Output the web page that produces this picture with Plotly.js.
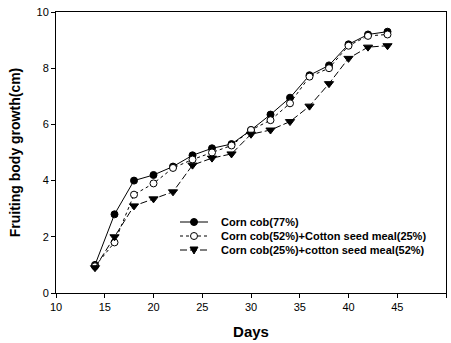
<!DOCTYPE html>
<html>
<head>
<meta charset="utf-8">
<script src="https://cdn.plot.ly/plotly-3.0.1.min.js"></script>
<style>
  html, body { margin: 0; padding: 0; background: #fff; }
  #chart { width: 451px; height: 343px; }
</style>
</head>
<body>
<div id="chart"></div>
<script>
// Growth of fruiting bodies over time for three substrate mixes
const days = [14, 16, 18, 20, 22, 24, 26, 28, 30, 32, 34, 36, 38, 40, 42, 44];

const cornCob77 = [1.0, 2.8, 4.0, 4.2, 4.5, 4.9, 5.15, 5.3, 5.8, 6.35, 6.95, 7.75, 8.1, 8.85, 9.2, 9.3];
const cornCob52Cotton25 = [0.95, 1.8, 3.5, 3.9, 4.45, 4.75, 5.0, 5.25, 5.8, 6.15, 6.75, 7.7, 8.0, 8.8, 9.15, 9.2];
const cornCob25Cotton52 = [0.9, 2.0, 3.1, 3.35, 3.6, 4.55, 4.8, 4.95, 5.65, 5.8, 6.1, 6.65, 7.45, 8.35, 8.75, 8.8];

const seriesNames = [
  'Corn cob(77%)',
  'Corn cob(52%)+Cotton seed meal(25%)',
  'Corn cob(25%)+cotton seed meal(52%)'
];

const xTicks = [10, 15, 20, 25, 30, 35, 40, 45, 50];
const yTicks = [0, 2, 4, 6, 8, 10];

const FONT = 'Arial, Liberation Sans, sans-serif';

// Per-series styling
const styles = [
  { dash: 'solid',   symbol: 'circle',        fill: '#000', size: 7 },
  { dash: 'dot',     symbol: 'circle',        fill: '#fff', size: 7 },
  { dash: '7px,3px', symbol: 'triangle-down', fill: '#000', size: 8 }
];

const seriesValues = [cornCob77, cornCob52Cotton25, cornCob25Cotton52];

const traces = seriesValues.map((vals, i) => ({
  x: days, y: vals, name: seriesNames[i],
  mode: 'lines+markers',
  showlegend: false,
  line: { color: '#000', width: 1, dash: styles[i].dash },
  marker: { symbol: styles[i].symbol, size: styles[i].size, color: styles[i].fill,
            line: { color: '#000', width: 1 } }
}));

// Compact legend box drawn inside the plot (paper coordinates)
const plotL = 56, plotR = 446, plotT = 12, plotB = 293;
const px = v => (v - plotL) / (plotR - plotL);
const py = v => (plotB - v) / (plotB - plotT);
const legendRows = [222, 236, 250];
const sampleX0 = 180, sampleX1 = 208, markX = 194, textX = 219;

const shapes = [];
const annotations = [];
legendRows.forEach((row, i) => {
  shapes.push({
    type: 'line', xref: 'paper', yref: 'paper',
    x0: px(sampleX0), x1: px(sampleX1), y0: py(row), y1: py(row),
    line: { color: '#000', width: 1, dash: styles[i].dash }
  });
  if (styles[i].symbol === 'circle') {
    shapes.push({
      type: 'circle', xref: 'paper', yref: 'paper',
      xsizemode: 'pixel', ysizemode: 'pixel',
      xanchor: px(markX), yanchor: py(row),
      x0: -3.5, x1: 3.5, y0: -3.5, y1: 3.5,
      fillcolor: styles[i].fill, line: { color: '#000', width: 1 }
    });
  } else {
    shapes.push({
      type: 'path', xref: 'paper', yref: 'paper',
      xsizemode: 'pixel', ysizemode: 'pixel',
      xanchor: px(markX), yanchor: py(row),
      path: 'M -4 3 L 4 3 L 0 -4 Z',
      fillcolor: styles[i].fill, line: { color: '#000', width: 1 }
    });
  }
  annotations.push({
    xref: 'paper', yref: 'paper', x: px(textX), y: py(row),
    xanchor: 'left', yanchor: 'middle', showarrow: false,
    text: '<b>' + seriesNames[i] + '</b>',
    font: { family: FONT, size: 11, color: '#000' }
  });
});

const axisBase = {
  showgrid: false,
  zeroline: false,
  showline: true,
  linecolor: '#000',
  linewidth: 1,
  mirror: true,
  ticks: 'outside',
  ticklen: 4,
  tickcolor: '#000',
  tickfont: { family: FONT, size: 11, color: '#000' }
};

const layout = {
  width: 451,
  height: 343,
  margin: { l: plotL, r: 451 - plotR, t: plotT, b: 343 - plotB },
  paper_bgcolor: '#fff',
  plot_bgcolor: '#fff',
  showlegend: false,
  xaxis: Object.assign({}, axisBase, {
    range: [10, 50],
    tickvals: xTicks,
    ticktext: xTicks.map(String),
    title: { text: '<b>Days</b>', font: { family: FONT, size: 15, color: '#000' }, standoff: 14 }
  }),
  yaxis: Object.assign({}, axisBase, {
    range: [0, 10],
    tickvals: yTicks,
    ticktext: yTicks.map(String),
    title: { text: '<b>Fruiting body growth(cm)</b>', font: { family: FONT, size: 14, color: '#000' }, standoff: 12 }
  }),
  shapes: shapes,
  annotations: annotations
};

Plotly.newPlot('chart', traces, layout, { displayModeBar: false, staticPlot: true });
</script>
</body>
</html>
